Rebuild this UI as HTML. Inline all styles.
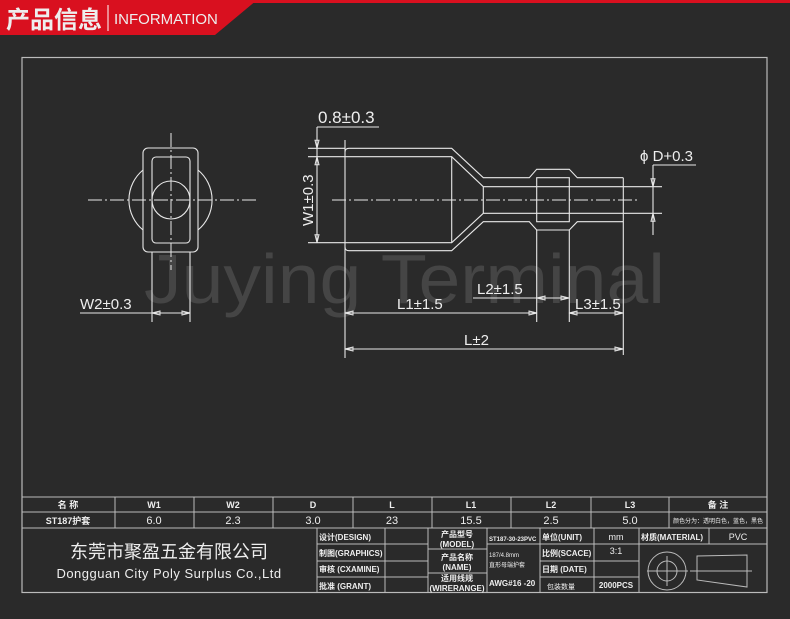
<!DOCTYPE html>
<html><head><meta charset="utf-8"><style>
html,body{margin:0;padding:0;background:#2a2a2a;}
svg{display:block}
text{font-family:"Liberation Sans","Noto Sans CJK SC",sans-serif;fill:#eee}
</style></head><body>
<svg width="790" height="619" viewBox="0 0 790 619" xmlns="http://www.w3.org/2000/svg">
<rect width="790" height="619" fill="#2a2a2a"/>
<rect x="0" y="0" width="790" height="3" fill="#d9101f"/>
<polygon points="0,0 257,0 215,35 0,35" fill="#d9101f"/>
<text x="6" y="28" font-size="24" font-weight="bold" font-family="Noto Sans CJK SC,sans-serif" fill="#fff">产品信息</text>
<line x1="108" y1="5" x2="108" y2="31" stroke="#fff" stroke-width="1"/>
<text x="114" y="24" font-size="15" fill="#fff">INFORMATION</text>

<text x="144" y="303" font-size="70" textLength="521" lengthAdjust="spacingAndGlyphs" style="fill:#454545">Juying Terminal</text>

<g stroke="#bbb" fill="none" stroke-width="1.2">
<rect x="22" y="57.5" width="745" height="535"/>
</g>

<g stroke="#e8e8e8" fill="none" stroke-width="1.1">
<rect x="143" y="148" width="55" height="104" rx="5"/>
<rect x="152" y="157" width="38" height="86" rx="4"/>
<circle cx="171" cy="200" r="19"/>
<path d="M143,170 A39,39 0 0 0 143,230"/>
<path d="M198,170 A39,39 0 0 1 198,230"/>
<line x1="152" y1="252" x2="152" y2="322"/>
<line x1="190" y1="252" x2="190" y2="322"/>
<line x1="80" y1="313" x2="190" y2="313"/>
<path d="M349,148.3 H451.7 L483.3,177.7 H529.3 L536.7,169.3 H569.3 L577.3,177.7 H623.3"/>
<path d="M349,250.7 H451.7 L483.3,221.7 H529.3 L536.7,230 H569.3 L577.3,221.7 H623.3"/>
<path d="M345,152 Q345,148.3 349,148.3"/>
<path d="M345,247 Q345,250.7 349,250.7"/>
<path d="M308,156.7 H451.7 L483.3,186.7 H623.3"/>
<path d="M308,242.7 H451.7 L483.3,213.3 H623.3"/>
<line x1="308" y1="148.3" x2="345" y2="148.3"/>
<line x1="345" y1="140" x2="345" y2="358"/>
<line x1="451.7" y1="156.7" x2="451.7" y2="242.7"/>
<line x1="483.3" y1="186.7" x2="483.3" y2="213.3"/>
<rect x="536.7" y="177.7" width="32.6" height="44"/>
<line x1="536.7" y1="230" x2="536.7" y2="322"/>
<line x1="569.3" y1="230" x2="569.3" y2="322"/>
<line x1="623.3" y1="177.7" x2="623.3" y2="355"/>
<line x1="623.3" y1="186.7" x2="662" y2="186.7"/>
<line x1="623.3" y1="213.3" x2="662" y2="213.3"/>
<line x1="653" y1="165" x2="653" y2="235"/>
<line x1="653" y1="165" x2="696" y2="165"/>
<line x1="317" y1="127" x2="317" y2="243"/>
<line x1="317" y1="127" x2="379" y2="127"/>
<line x1="345" y1="313" x2="537" y2="313"/>
<line x1="473" y1="298" x2="569" y2="298"/>
<line x1="569" y1="313" x2="623" y2="313"/>
<line x1="345" y1="349" x2="623" y2="349"/>
</g>
<g stroke="#e8e8e8" stroke-width="1" stroke-dasharray="14,3,2,3" fill="none">
<line x1="88" y1="200" x2="258" y2="200"/>
<line x1="171" y1="133" x2="171" y2="270"/>
<line x1="332" y1="200" x2="637" y2="200"/>
</g>
<g fill="none" stroke="#e8e8e8" stroke-width="1">
<path d="M152,313 l8,-2 v4 z M190,313 l-8,-2 v4 z"/>
<path d="M345,313 l8,-2 v4 z M537,313 l-8,-2 v4 z"/>
<path d="M537,298 l8,-2 v4 z M569,298 l-8,-2 v4 z"/>
<path d="M569,313 l8,-2 v4 z M623,313 l-8,-2 v4 z"/>
<path d="M345,349 l8,-2 v4 z M623,349 l-8,-2 v4 z"/>
<path d="M317,148.3 l-2,-8 h4 z M317,156.7 l-2,8 h4 z M317,242.7 l-2,-8 h4 z"/>
<path d="M653,186.7 l-2,-8 h4 z M653,213.3 l-2,8 h4 z"/>
</g>
<g font-size="15">
<text x="318" y="123" font-size="17">0.8±0.3</text>
<text x="80" y="309">W2±0.3</text>
<text x="397" y="309">L1±1.5</text>
<text x="477" y="294">L2±1.5</text>
<text x="575" y="309">L3±1.5</text>
<text x="464" y="345">L±2</text>
<text x="640" y="161">ϕ D+0.3</text>
<text transform="translate(313,226) rotate(-90)">W1±0.3</text>
</g>

<g stroke="#bbb" stroke-width="1" fill="none">
<line x1="22" y1="497" x2="767" y2="497"/>
<line x1="22" y1="512" x2="767" y2="512"/>
<line x1="22" y1="528" x2="767" y2="528"/>
<path d="M115,497V528 M194,497V528 M273,497V528 M353,497V528 M432,497V528 M511,497V528 M591,497V528 M669,497V528"/>
<path d="M317,528V592 M385,528V592 M428,528V592 M487,528V592 M540,528V592 M594,528V592 M639,528V592 M709,528V544"/>
<path d="M317,544H428 M317,561H428 M317,577H428 M428,549H487 M428,573H487 M487,544H639 M709,544H767 M540,561H639 M540,577H639 M639,544H709"/>
<circle cx="667" cy="571" r="19"/><circle cx="667" cy="571" r="10"/>
<path d="M647,571H688 M667,556V586 M690,571H752 M697,556V580 L747,587 V555 Z"/>
</g>
<g font-size="9" font-weight="bold" text-anchor="middle">
<text x="68" y="508">名  称</text><text x="154" y="508">W1</text><text x="233" y="508">W2</text><text x="313" y="508">D</text><text x="392" y="508">L</text><text x="471" y="508">L1</text><text x="551" y="508">L2</text><text x="630" y="508">L3</text><text x="718" y="508">备  注</text>
<text x="68" y="524">ST187护套</text>
</g>
<g font-size="11" text-anchor="middle">
<text x="154" y="524">6.0</text><text x="233" y="524">2.3</text><text x="313" y="524">3.0</text><text x="392" y="524">23</text><text x="471" y="524">15.5</text><text x="551" y="524">2.5</text><text x="630" y="524">5.0</text>
<text x="718" y="523" font-size="6">颜色分为：透明白色，蓝色，黑色</text>
<text x="169" y="558" font-size="18" font-family="Noto Serif CJK SC,serif">东莞市聚盈五金有限公司</text>
<text x="169" y="578" font-size="13" letter-spacing="0.5">Dongguan City Poly Surplus Co.,Ltd</text>
</g>
<g font-size="8" font-weight="bold">
<text x="319" y="540">设计(DESIGN)</text><text x="319" y="556">制图(GRAPHICS)</text><text x="319" y="572">审核 (CXAMINE)</text><text x="319" y="589">批准 (GRANT)</text>
<text x="457" y="537" text-anchor="middle">产品型号</text><text x="457" y="547" text-anchor="middle">(MODEL)</text>
<text x="457" y="560" text-anchor="middle">产品名称</text><text x="457" y="570" text-anchor="middle">(NAME)</text>
<text x="457" y="581" text-anchor="middle">适用线规</text><text x="457" y="591" text-anchor="middle">(WIRERANGE)</text>
<text x="489" y="541" font-size="6">ST187-30-23PVC</text>
<text x="489" y="557" font-size="6" font-weight="normal">187/4.8mm</text><text x="489" y="567" font-size="6" font-weight="normal">直形母端护套</text>
<text x="489" y="586">AWG#16 -20</text>
<text x="542" y="540">单位(UNIT)</text><text x="542" y="556">比例(SCACE)</text><text x="542" y="572">日期 (DATE)</text><text x="547" y="589" font-weight="normal" font-size="7">包装数量</text>
<text x="616" y="540" text-anchor="middle" font-weight="normal" font-size="9">mm</text><text x="616" y="554" text-anchor="middle" font-size="9" font-weight="normal">3:1</text><text x="616" y="588" text-anchor="middle">2000PCS</text>
<text x="641" y="540">材质(MATERIAL)</text><text x="738" y="540" text-anchor="middle" font-size="9" font-weight="normal">PVC</text>
</g>
</svg>
</body></html>
